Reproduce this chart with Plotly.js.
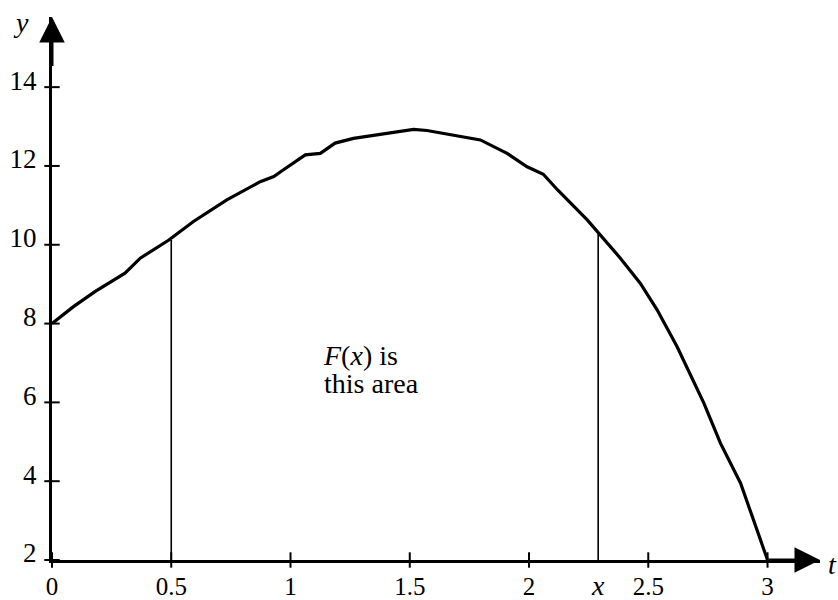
<!DOCTYPE html>
<html>
<head>
<meta charset="utf-8">
<script src="https://cdn.plot.ly/plotly-3.0.1.min.js"></script>
<style>
  html, body { margin: 0; padding: 0; background: #fff; }
  #chart { width: 838px; height: 600px; }
</style>
</head>
<body>
<div id="chart"></div>
<script>
// Curve y = f(t)
const tValues = [0, 0.09, 0.18, 0.306, 0.37, 0.49, 0.593, 0.733, 0.873, 0.93, 0.96, 1.034, 1.062, 1.125, 1.187, 1.264, 1.376, 1.516, 1.572, 1.684, 1.796, 1.908, 1.992, 2.06, 2.12, 2.244, 2.293, 2.383, 2.467, 2.537, 2.621, 2.733, 2.803, 2.887, 3.0];
const yValues = [8, 8.43, 8.81, 9.28, 9.66, 10.12, 10.59, 11.14, 11.6, 11.73, 11.86, 12.15, 12.28, 12.32, 12.58, 12.7, 12.81, 12.93, 12.9, 12.79, 12.66, 12.32, 11.98, 11.79, 11.39, 10.63, 10.29, 9.66, 9.02, 8.35, 7.41, 5.98, 4.96, 3.95, 2];

// Vertical lines at t = 0.5 and t = x
const boundT = [0.5, 2.29];
const boundY = [10.12, 10.29];

// Ticks
const xTicks = [0, 0.5, 1, 1.5, 2, 2.5, 3];
const xTickText = ["0", "0.5", "1", "1.5", "2", "2.5", "3"];
const yTicks = [2, 4, 6, 8, 10, 12, 14];
const yTickText = ["2", "4", "6", "8", "10", "12", "14"];

// Axis extents (arrow tips)
const xMin = 0, xMax = 3.22;
const yMin = 2, yMax = 15.78;

const FONT = "Liberation Serif, Times New Roman, serif";

const traces = [];

traces.push({
  x: tValues, y: yValues, mode: "lines", type: "scatter",
  line: { color: "#000", width: 3.2 }, hoverinfo: "skip", cliponaxis: false
});

boundT.forEach((t, i) => {
  traces.push({
    x: [t, t], y: [yMin, boundY[i]], mode: "lines", type: "scatter",
    line: { color: "#000", width: 1.6 }, hoverinfo: "skip"
  });
});

traces.push({
  x: xTicks, y: xTicks.map(() => yMin), mode: "markers", type: "scatter",
  marker: { symbol: "line-ns", size: 11, line: { color: "#000", width: 2 } },
  hoverinfo: "skip", cliponaxis: false
});
traces.push({
  x: yTicks.map(() => xMin), y: yTicks, mode: "markers", type: "scatter",
  marker: { symbol: "line-ew", size: 11, line: { color: "#000", width: 2 } },
  hoverinfo: "skip", cliponaxis: false
});

const plotW = 838 - 52 - 18, plotH = 600 - 17 - 40;

const layout = {
  width: 838, height: 600,
  margin: { l: 52, r: 18, t: 17, b: 40 },
  paper_bgcolor: "#fff", plot_bgcolor: "#fff",
  showlegend: false,
  xaxis: {
    range: [xMin, xMax], showgrid: false, zeroline: false,
    showline: true, linecolor: "#000", linewidth: 3,
    tickvals: xTicks, ticktext: xTickText, ticks: "",
    tickfont: { family: FONT, size: 25, color: "#000" },
    ticklabelstandoff: 2, automargin: false, fixedrange: true
  },
  yaxis: {
    range: [yMin, yMax], showgrid: false, zeroline: false,
    showline: true, linecolor: "#000", linewidth: 3,
    tickvals: yTicks, ticktext: yTickText, ticks: "",
    tickfont: { family: FONT, size: 27, color: "#000" },
    ticklabelstandoff: 7, ticklabelshift: -7, automargin: false, fixedrange: true
  },
  annotations: [
    { x: xMax, y: yMin, xref: "x", yref: "y", ax: 3.0, ay: yMin, axref: "x", ayref: "y",
      text: "", showarrow: true, arrowhead: 2, arrowsize: 1.7, arrowwidth: 3, arrowcolor: "#000", standoff: 0 },
    { x: xMin, y: yMax, xref: "x", yref: "y", ax: xMin, ay: 14.5, axref: "x", ayref: "y",
      text: "", showarrow: true, arrowhead: 2, arrowsize: 1.7, arrowwidth: 3, arrowcolor: "#000", standoff: 0 },
    { x: (21 - 52) / plotW, y: (600 - 40 - 23) / plotH, xref: "paper", yref: "paper", text: "<i>y</i>", showarrow: false,
      font: { family: FONT, size: 28, color: "#000" }, xanchor: "center", yanchor: "middle" },
    { x: (832 - 52) / plotW, y: (600 - 40 - 564) / plotH, xref: "paper", yref: "paper", text: "<i>t</i>", showarrow: false,
      font: { family: FONT, size: 28, color: "#000" }, xanchor: "center", yanchor: "middle" },
    { x: 1.128, y: 7.18, xref: "x", yref: "y", text: "<i>F</i>(<i>x</i>) is", showarrow: false,
      font: { family: FONT, size: 28, color: "#000" }, xanchor: "left", yanchor: "middle" },
    { x: 1.133, y: 6.47, xref: "x", yref: "y", text: "this area", showarrow: false,
      font: { family: FONT, size: 28, color: "#000" }, xanchor: "left", yanchor: "middle" },
    { x: boundT[1], y: yMin, xref: "x", yref: "y", text: "<i>x</i>", showarrow: false,
      font: { family: FONT, size: 28, color: "#000" }, xanchor: "center", yanchor: "top", yshift: -8 }
  ]
};

Plotly.newPlot("chart", traces, layout, { displayModeBar: false, staticPlot: true });
</script>
</body>
</html>
